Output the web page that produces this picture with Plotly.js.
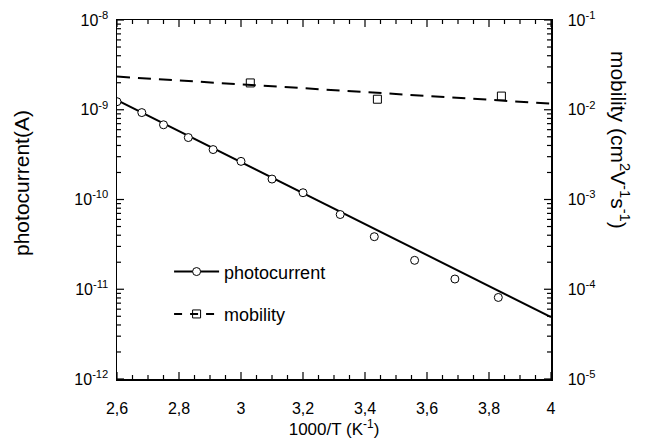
<!DOCTYPE html>
<html>
<head>
<meta charset="utf-8">
<script src="https://cdn.plot.ly/plotly-3.0.1.min.js"></script>
<style>html,body{margin:0;padding:0;background:#fff;}#chart{width:645px;height:442px;}</style>
</head>
<body>
<div id="chart"></div>
<script>
// Photocurrent data points
const invT_pc = [2.60, 2.68, 2.75, 2.83, 2.91, 3.00, 3.10, 3.20, 3.32, 3.43, 3.56, 3.69, 3.83];
const photocurrent = [1.23e-9, 9.3e-10, 6.8e-10, 4.9e-10, 3.6e-10, 2.66e-10, 1.69e-10, 1.19e-10, 6.8e-11, 3.85e-11, 2.1e-11, 1.3e-11, 8.1e-12];
// Photocurrent fit line endpoints
const invT_pcFit = [2.6, 4.0];
const photocurrentFit = [1.28e-9, 4.9e-12];
// Mobility data points
const invT_mob = [3.03, 3.44, 3.84];
const mobility = [1.99e-2, 1.31e-2, 1.42e-2];
// Mobility fit line endpoints
const invT_mobFit = [2.6, 4.0];
const mobilityFit = [2.34e-2, 1.17e-2];

const xTickVals = [2.6, 2.8, 3.0, 3.2, 3.4, 3.6, 3.8, 4.0];
const xTickText = ['2,6', '2,8', '3', '3,2', '3,4', '3,6', '3,8', '4'];
const yTickVals = [1e-12, 1e-11, 1e-10, 1e-9, 1e-8];
const yTickText = ['10<sup>-12</sup>', '10<sup>-11</sup>', '10<sup>-10</sup>', '10<sup>-9</sup>', '10<sup>-8</sup>'];
const y2TickVals = [1e-5, 1e-4, 1e-3, 1e-2, 1e-1];
const y2TickText = ['10<sup>-5</sup>', '10<sup>-4</sup>', '10<sup>-3</sup>', '10<sup>-2</sup>', '10<sup>-1</sup>'];

const X_RANGE = [2.6, 4.0];
const Y_RANGE = [-12, -8];
const Y2_RANGE = [-5, -1];

// minor tick positions: every 0.05 on x, 2..9 x 10^n on log axes
function linMinor(a, b, step) { const v = []; for (let i = 0; a + i * step <= b + 1e-9; i++) v.push(+(a + i * step).toFixed(4)); return v; }
function logMinor(e0, e1) { const v = []; for (let e = e0; e < e1; e++) for (let k = 2; k <= 9; k++) v.push(k * Math.pow(10, e)); return v; }

const FONT = 'Liberation Sans, Arial, sans-serif';
const W = 645, H = 442, M = {l: 117, r: 94, t: 20, b: 63};
const PW = W - M.l - M.r, PH = H - M.t - M.b;

// tick marks drawn as line segments through the axes' own scales (inside, all four sides)
const xSpan = X_RANGE[1] - X_RANGE[0];
function buildXTicks() {
  const xs = [], ys = [];
  const ymin = Math.pow(10, Y_RANGE[0]), ymax = Math.pow(10, Y_RANGE[1]);
  const minors = linMinor(X_RANGE[0], X_RANGE[1], 0.05).filter(v => !xTickVals.some(m => Math.abs(m - v) < 1e-6));
  const add = (v, len) => {
    const d = (Y_RANGE[1] - Y_RANGE[0]) * len / PH;
    xs.push(v, v, null, v, v, null);
    ys.push(ymin, Math.pow(10, Y_RANGE[0] + d), null, ymax, Math.pow(10, Y_RANGE[1] - d), null);
  };
  xTickVals.forEach(v => add(v, 7));
  minors.forEach(v => add(v, 4));
  return {xs, ys};
}
function buildYTicks(majors, range, side) {
  const xs = [], ys = [];
  const x0 = side === 'left' ? X_RANGE[0] : X_RANGE[1];
  const dir = side === 'left' ? 1 : -1;
  const add = (v, len) => { xs.push(x0, x0 + dir * xSpan * len / PW, null); ys.push(v, v, null); };
  majors.forEach(v => add(v, 7));
  logMinor(range[0], range[1]).forEach(v => add(v, 4));
  return {xs, ys};
}
const xt = buildXTicks();
const yt = buildYTicks(yTickVals, Y_RANGE, 'left');
const y2t = buildYTicks(y2TickVals, Y2_RANGE, 'right');
const tickStyle = {mode: 'lines', line: {color: '#000', width: 1.2}, showlegend: false, hoverinfo: 'skip', connectgaps: false, cliponaxis: false};

const traces = [
  Object.assign({x: xt.xs, y: xt.ys}, tickStyle),
  Object.assign({x: yt.xs, y: yt.ys}, tickStyle),
  Object.assign({x: y2t.xs, y: y2t.ys, yaxis: 'y2'}, tickStyle),
  {x: invT_pcFit, y: photocurrentFit, mode: 'lines', line: {color: '#000', width: 2}, showlegend: false, hoverinfo: 'skip'},
  {x: invT_pc, y: photocurrent, mode: 'markers', marker: {symbol: 'circle', size: 8, color: '#fff', line: {color: '#000', width: 1}}, showlegend: false},
  {x: invT_mobFit, y: mobilityFit, yaxis: 'y2', mode: 'lines', line: {color: '#000', width: 2, dash: '13px,8px'}, showlegend: false, hoverinfo: 'skip'},
  {x: invT_mob, y: mobility, yaxis: 'y2', mode: 'markers', marker: {symbol: 'square-open', size: 8, color: '#000', line: {color: '#000', width: 1}}, showlegend: false},
  // legend entries
  {x: [null], y: [null], name: 'photocurrent', legendgroup: 'a', mode: 'lines+markers', line: {color: '#000', width: 2}, marker: {symbol: 'circle', size: 8, color: '#fff', line: {color: '#000', width: 1}}},
  {x: [null], y: [null], name: 'mobility', legendgroup: 'b', yaxis: 'y2', mode: 'lines+markers', line: {color: '#000', width: 2, dash: '8px,8px'}, marker: {symbol: 'square-open', size: 8, color: '#000', line: {color: '#000', width: 1}}}
];

const layout = {
  width: W, height: H,
  margin: M,
  paper_bgcolor: '#fff', plot_bgcolor: '#fff',
  font: {family: FONT, size: 16, color: '#000'},
  showlegend: true,
  legend: {x: 0.12, y: 0.35, xanchor: 'left', yanchor: 'top', bgcolor: 'rgba(0,0,0,0)', font: {size: 18, family: FONT}, itemwidth: 45, tracegroupgap: 16, traceorder: 'grouped'},
  xaxis: {
    range: X_RANGE, showline: true, linecolor: '#000', linewidth: 1.5, mirror: true,
    ticks: '', tickmode: 'array', tickvals: xTickVals, ticktext: xTickText, showgrid: false, zeroline: false,
    ticklabelstandoff: 14,
    title: {text: '1000/T (K<sup>-1</sup>)', font: {size: 17, family: FONT}, standoff: 4}
  },
  yaxis: {
    type: 'log', range: Y_RANGE, showline: true, linecolor: '#000', linewidth: 1.5,
    ticks: '', tickmode: 'array', tickvals: yTickVals, ticktext: yTickText, showgrid: false, zeroline: false,
    ticklabelstandoff: 4
  },
  yaxis2: {
    type: 'log', range: Y2_RANGE, overlaying: 'y', side: 'right', showline: true, linecolor: '#000', linewidth: 1.5,
    ticks: '', tickmode: 'array', tickvals: y2TickVals, ticktext: y2TickText, showgrid: false, zeroline: false,
    ticklabelstandoff: 12
  },
  annotations: [
    {text: 'photocurrent(A)', xref: 'paper', yref: 'paper', x: 0, xshift: -95, y: 0.546, textangle: -90, showarrow: false, font: {size: 21, family: FONT}, xanchor: 'center', yanchor: 'middle'},
    {text: 'mobility (cm<sup>2</sup>V<sup>-1</sup>s<sup>-1</sup>)', xref: 'paper', yref: 'paper', x: 1, xshift: 69, y: 0.666, textangle: 90, showarrow: false, font: {size: 21, family: FONT}, xanchor: 'center', yanchor: 'middle'}
  ]
};

Plotly.newPlot('chart', traces, layout, {displayModeBar: false, staticPlot: true});
</script>
</body>
</html>
